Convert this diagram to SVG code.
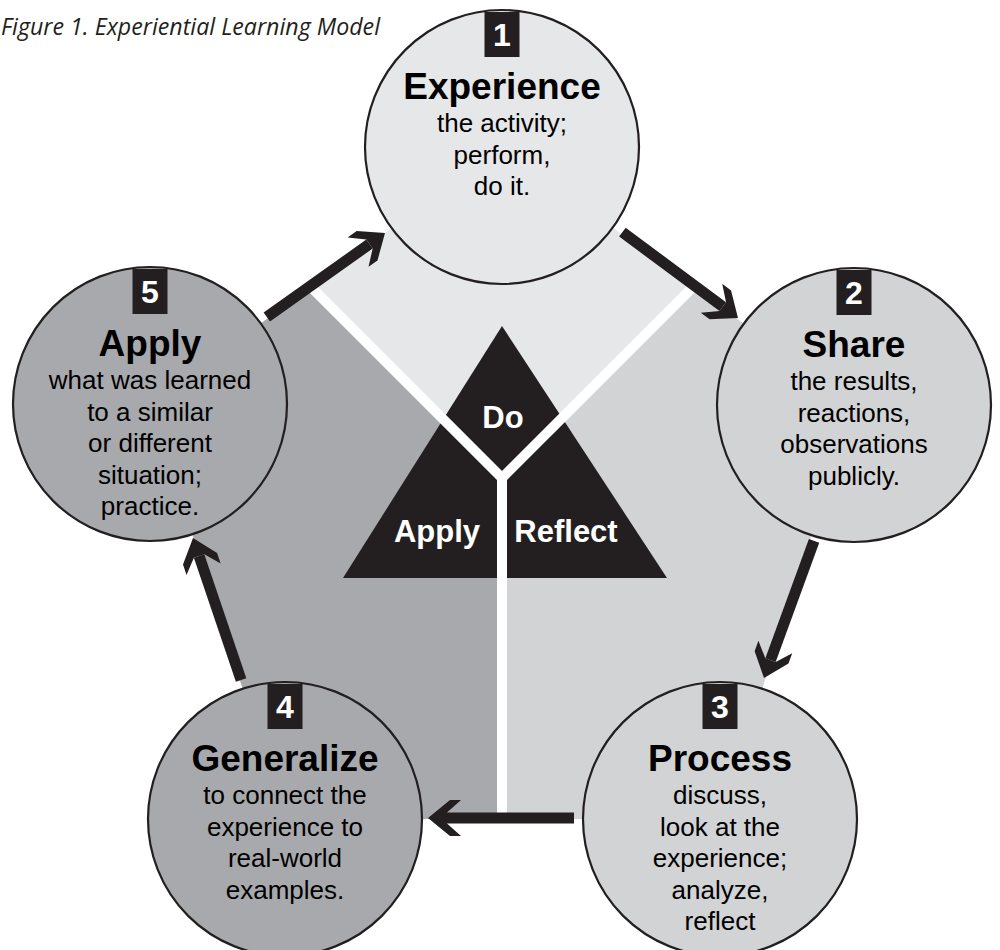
<svg xmlns="http://www.w3.org/2000/svg" xmlns:xlink="http://www.w3.org/1999/xlink" width="1000" height="950" viewBox="0 0 1000 950">
<style>
.ttl{font-family:"Liberation Sans",Arial,sans-serif;font-weight:bold;font-size:37px;fill:#000;text-anchor:middle}
.bd{font-family:"Liberation Sans",Arial,sans-serif;font-size:26px;fill:#000;text-anchor:middle}
.num{font-family:"Liberation Sans",Arial,sans-serif;font-weight:bold;font-size:32px;fill:#fff;text-anchor:middle}
.tri{font-family:"Liberation Sans",Arial,sans-serif;font-weight:bold;font-size:31px;fill:#fff;text-anchor:middle}
.circ{stroke:#231f20;stroke-width:2.2}
.shaft{stroke:#231f20;stroke-width:11;fill:none}
.wl{stroke:#fff;stroke-width:10;fill:none}
</style>
<defs>
<polygon id="ah" points="0,0 -22,-18 -33,-18 -19,-5.5 -19,5.5 -33,18 -22,18" fill="#231f20"/>
<clipPath id="pent"><polygon points="503,147 854,405 720,819 285,819 150,404"/></clipPath>
</defs>
<rect width="1000" height="950" fill="#fff"/>
<text x="1" y="35" textLength="379" lengthAdjust="spacingAndGlyphs" font-family="'Open Sans','Noto Sans',sans-serif" font-style="italic" font-size="23" fill="#231f20">Figure 1. Experiential Learning Model</text>
<g id="background">
<polygon points="502,478 310.9,286.9 503,147 693.4,286.6" fill="#e6e7e8"/>
<polygon points="502,478 310.9,286.9 150,404 285,819 502,819" fill="#a7a9ac"/>
<polygon points="502,478 693.4,286.6 854,405 720,819 502,819" fill="#d1d3d4"/>
</g>
<g id="triangle">
<polygon points="502,326 343,578 667,578" fill="#231f20"/>
<g clip-path="url(#pent)">
<polyline class="wl" points="280,256 502,478 724,256"/>
<line class="wl" x1="502" y1="478" x2="502" y2="830"/>
</g>
<text class="tri" x="503" y="428">Do</text>
<text class="tri" x="437" y="542">Apply</text>
<text class="tri" x="566" y="542">Reflect</text>
</g>
<g id="node1">
<circle class="circ" cx="502" cy="147" r="137" fill="#e6e7e8"/>
<rect x="484.5" y="12" width="35" height="45" fill="#231f20"/>
<text class="num" x="502" y="46">1</text>
<text class="ttl" x="502" y="99">Experience</text>
<text class="bd" x="502" y="132">the activity;</text>
<text class="bd" x="502" y="163.5">perform,</text>
<text class="bd" x="502" y="195">do it.</text>
</g>
<g id="node2">
<circle class="circ" cx="854" cy="405" r="137" fill="#d1d3d4"/>
<rect x="836.5" y="270" width="35" height="45" fill="#231f20"/>
<text class="num" x="854" y="304">2</text>
<text class="ttl" x="854" y="357">Share</text>
<text class="bd" x="854" y="390">the results,</text>
<text class="bd" x="854" y="421.5">reactions,</text>
<text class="bd" x="854" y="453">observations</text>
<text class="bd" x="854" y="484.5">publicly.</text>
</g>
<g id="node3">
<circle class="circ" cx="720" cy="819" r="137" fill="#d1d3d4"/>
<rect x="702.5" y="684" width="35" height="45" fill="#231f20"/>
<text class="num" x="720" y="718">3</text>
<text class="ttl" x="720" y="771">Process</text>
<text class="bd" x="720" y="804">discuss,</text>
<text class="bd" x="720" y="835.5">look at the</text>
<text class="bd" x="720" y="867">experience;</text>
<text class="bd" x="720" y="898.5">analyze,</text>
<text class="bd" x="720" y="930">reflect</text>
</g>
<g id="node4">
<circle class="circ" cx="285" cy="819" r="137" fill="#a7a9ac"/>
<rect x="267.5" y="684" width="35" height="45" fill="#231f20"/>
<text class="num" x="285" y="718">4</text>
<text class="ttl" x="285" y="771">Generalize</text>
<text class="bd" x="285" y="804">to connect the</text>
<text class="bd" x="285" y="835.5">experience to</text>
<text class="bd" x="285" y="867">real-world</text>
<text class="bd" x="285" y="898.5">examples.</text>
</g>
<g id="node5">
<circle class="circ" cx="150" cy="404" r="137" fill="#a7a9ac"/>
<rect x="132.5" y="269" width="35" height="45" fill="#231f20"/>
<text class="num" x="150" y="303">5</text>
<text class="ttl" x="150" y="356">Apply</text>
<text class="bd" x="150" y="389">what was learned</text>
<text class="bd" x="150" y="420.5">to a similar</text>
<text class="bd" x="150" y="452">or different</text>
<text class="bd" x="150" y="483.5">situation;</text>
<text class="bd" x="150" y="515">practice.</text>
</g>
<g id="connectors">
<g transform="translate(385,233) rotate(-35.4)"><line class="shaft" x1="-145" y1="0" x2="-19" y2="0"/><use xlink:href="#ah"/></g>
<g transform="translate(738,318) rotate(36.6)"><line class="shaft" x1="-144" y1="0" x2="-19" y2="0"/><use xlink:href="#ah"/></g>
<g transform="translate(764,678) rotate(110.05)"><line class="shaft" x1="-146" y1="0" x2="-19" y2="0"/><use xlink:href="#ah"/></g>
<g transform="translate(428,818) rotate(180)"><line class="shaft" x1="-146" y1="0" x2="-19" y2="0"/><use xlink:href="#ah"/></g>
<g transform="translate(193,538) rotate(-108.7)"><line class="shaft" x1="-150" y1="0" x2="-19" y2="0"/><use xlink:href="#ah"/></g>
</g>
</svg>
